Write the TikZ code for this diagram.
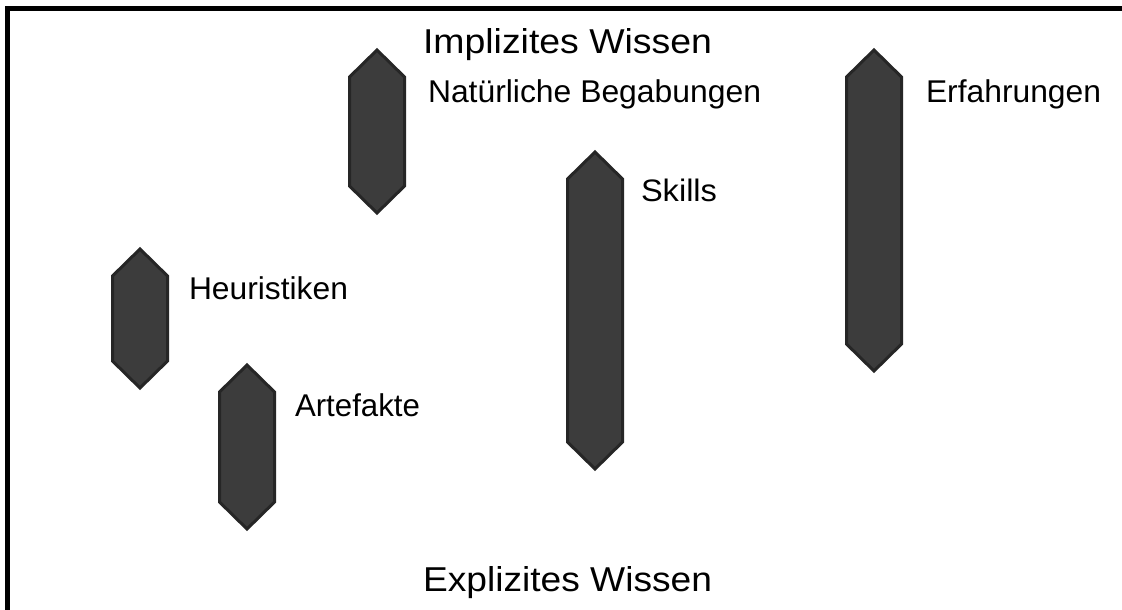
\documentclass[tikz,border=0pt]{standalone}
\usepackage{fontspec}
\usepackage{graphicx}
\setmainfont{Liberation Sans}
\definecolor{barfill}{HTML}{3C3C3C}
\definecolor{baredge}{HTML}{262626}
% a label of given width and ascender height, set on its baseline
\newcommand\fitlabel[3]{\resizebox{#1pt}{#2pt}{#3}}
% a vertical bar with pointed ends: centre x, top y, bottom y
\newcommand\hexbar[3]{%
  \draw[bar] (#1,{#2+2}) -- ({#1+27.5},{#2+29}) -- ({#1+27.5},{#3-29})
    -- (#1,{#3-2}) -- ({#1-27.5},{#3-29}) -- ({#1-27.5},{#2+29}) -- cycle;}
\begin{document}
\begin{tikzpicture}[x=1pt,y=-1pt,
  bar/.style={fill=barfill,draw=baredge,line width=3pt,line join=miter},
  lbl/.style={anchor=base west,inner sep=0pt,outer sep=0pt,text=black},
  frame/.style={draw=black,line width=5.2pt,line join=miter}]
  \useasboundingbox (0,0) rectangle (1122,610);
  \fill[white] (0,0) rectangle (1122,610);
  % frame along the top and left edges
  \draw[frame] (7.7,612) -- (7.7,8.5) -- (1124,8.5);

  % bars
  \hexbar{377}{48}{215}
  \hexbar{874}{48}{373}
  \hexbar{595}{150}{471}
  \hexbar{140}{247}{390}
  \hexbar{247}{363}{531}

  % labels
  \node[lbl] (implizit) at (423,54) {\fitlabel{289}{25}{Implizites Wissen}};
  \node[lbl] (begabung) at (428,102) {\fitlabel{333}{22.8}{Natürliche Begabungen}};
  \node[lbl] (erfahrung) at (926,102) {\fitlabel{175}{22.8}{Erfahrungen}};
  \node[lbl] (skills) at (641,201) {\fitlabel{76}{22.5}{Skills}};
  \node[lbl] (heuristik) at (189,299) {\fitlabel{159}{22.8}{Heuristiken}};
  \node[lbl] (artefakt) at (295,416) {\fitlabel{125}{22.8}{Artefakte}};
  \node[lbl] (explizit) at (423,591) {\fitlabel{289}{25}{Explizites Wissen}};
\end{tikzpicture}
\end{document}
